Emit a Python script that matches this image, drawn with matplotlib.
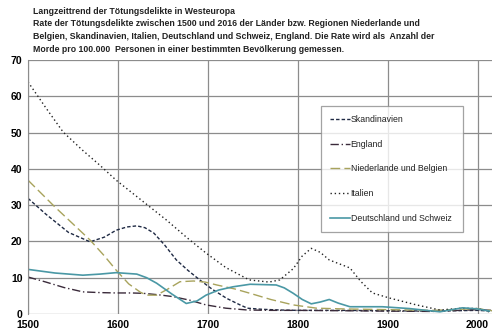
import matplotlib
matplotlib.use("Agg")
import matplotlib.pyplot as plt

plt.rcParams['font.family'] = ['Liberation Sans', 'DejaVu Sans']

# Skandinavien
skan_years = [1500, 1520, 1545, 1569, 1585, 1598, 1610, 1621, 1630, 1640, 1652, 1665, 1678, 1691, 1705, 1721, 1735, 1744, 1760, 1780, 1800, 1850, 1900, 1950, 2000, 2016]
skan_vals = [31.9, 27.5, 22.5, 19.9, 21.2, 23.1, 24.0, 24.3, 23.8, 22.3, 19.0, 14.9, 12.0, 9.4, 6.8, 4.3, 2.6, 1.6, 1.3, 1.1, 1.0, 1.0, 0.9, 0.8, 1.0, 0.8]

# England
eng_years = [1500, 1520, 1540, 1561, 1580, 1598, 1615, 1628, 1645, 1661, 1680, 1698, 1720, 1744, 1770, 1800, 1850, 1900, 1950, 2000, 2016]
eng_vals = [10.2, 8.8, 7.3, 6.1, 5.9, 5.8, 5.8, 5.7, 5.3, 4.8, 3.8, 2.5, 1.6, 1.1, 1.0, 1.0, 0.9, 0.8, 0.7, 1.2, 1.0]

# Niederlande und Belgien
nl_years = [1500, 1530, 1569, 1585, 1598, 1612, 1625, 1632, 1643, 1655, 1669, 1684, 1697, 1710, 1730, 1747, 1770, 1795, 1821, 1850, 1900, 1950, 2000, 2016]
nl_vals = [36.9, 29.5, 20.4, 16.0, 12.1, 8.3, 6.0, 5.2, 5.2, 6.8, 8.9, 9.1, 8.8, 8.0, 6.9, 5.7, 4.0, 2.5, 1.6, 1.4, 1.2, 1.0, 1.5, 0.9]

# Italien
ita_years = [1500, 1520, 1539, 1560, 1580, 1598, 1626, 1654, 1677, 1698, 1720, 1746, 1768, 1780, 1795, 1805, 1815, 1825, 1835, 1858, 1870, 1883, 1902, 1932, 1958, 1983, 2000, 2013]
ita_vals = [64.0, 56.8, 50.2, 45.3, 41.0, 36.9, 31.4, 25.9, 21.0, 16.8, 12.8, 9.4, 8.8, 9.4, 12.5, 16.0, 18.1, 17.0, 14.9, 12.7, 9.0, 5.8, 4.4, 2.5, 1.1, 1.6, 1.5, 0.6]

# Deutschland und Schweiz
de_years = [1500, 1530, 1561, 1580, 1598, 1621, 1632, 1643, 1660, 1676, 1688, 1698, 1712, 1728, 1747, 1776, 1785, 1795, 1805, 1815, 1825, 1835, 1845, 1858, 1894, 1924, 1958, 1983, 2000, 2013]
de_vals = [12.3, 11.3, 10.7, 11.0, 11.4, 11.0, 10.0, 8.5, 5.5, 2.9, 3.6, 5.2, 6.6, 7.5, 8.2, 8.0, 7.2, 5.7, 4.0, 2.8, 3.3, 4.0, 3.0, 2.0, 2.0, 1.5, 0.6, 1.7, 1.4, 0.8]

title_lines = [
    "Langzeittrend der Tötungsdelikte in Westeuropa",
    "Rate der Tötungsdelikte zwischen 1500 und 2016 der Länder bzw. Regionen Niederlande und",
    "Belgien, Skandinavien, Italien, Deutschland und Schweiz, England. Die Rate wird als  Anzahl der",
    "Morde pro 100.000  Personen in einer bestimmten Bevölkerung gemessen.",
]

fig = plt.figure(figsize=(5, 3.36), dpi=100)
ax = fig.add_axes([0.056, 0.0655, 0.928, 0.7555])

ax.plot(skan_years, skan_vals, color='#1f2a44', lw=1.0, ls=(0, (2.5, 1.5)), label='Skandinavien')
ax.plot(eng_years, eng_vals, color='#3a2a3a', lw=1.0, ls=(0, (6, 2, 1, 2)), label='England')
ax.plot(nl_years, nl_vals, color='#a8a35c', lw=1.0, ls=(0, (7, 3)), label='Niederlande und Belgien')
ax.plot(ita_years, ita_vals, color='#222222', lw=1.0, ls=(0, (1, 2)), label='Italien')
ax.plot(de_years, de_vals, color='#4a98a5', lw=1.2, label='Deutschland und Schweiz')

ax.set_xlim(1500, 2016)
ax.set_ylim(0, 70)
ax.set_xticks([1500, 1600, 1700, 1800, 1900, 2000])
ax.set_yticks(range(0, 71, 10))
ax.grid(True, color='#8c8c8c', lw=0.9)
ax.set_axisbelow(True)
for s in ['top', 'right', 'bottom']:
    ax.spines[s].set_visible(False)
ax.spines['left'].set_color('#8c8c8c')
ax.tick_params(length=0, labelsize=7.5, pad=4)
for lab in ax.get_xticklabels() + ax.get_yticklabels():
    lab.set_fontweight('bold')

leg = ax.legend(loc='upper left', bbox_to_anchor=(0.631, 0.819, 0.306, 0.0), mode='expand',
                fontsize=6.3, labelspacing=1.8, handlelength=2.3, handletextpad=0.1,
                frameon=True, fancybox=False, borderpad=1.0, borderaxespad=0)
leg.get_frame().set_edgecolor('#8c8c8c')
leg.get_frame().set_linewidth(0.9)
for t in leg.get_texts():
    t.set_color('#222222')

y = 0.967
for line in title_lines:
    fig.text(0.066, y, line, fontsize=6.3, fontweight='bold', color='#222222', va='center')
    y -= 0.038

fig.savefig('out.png', dpi=100)
